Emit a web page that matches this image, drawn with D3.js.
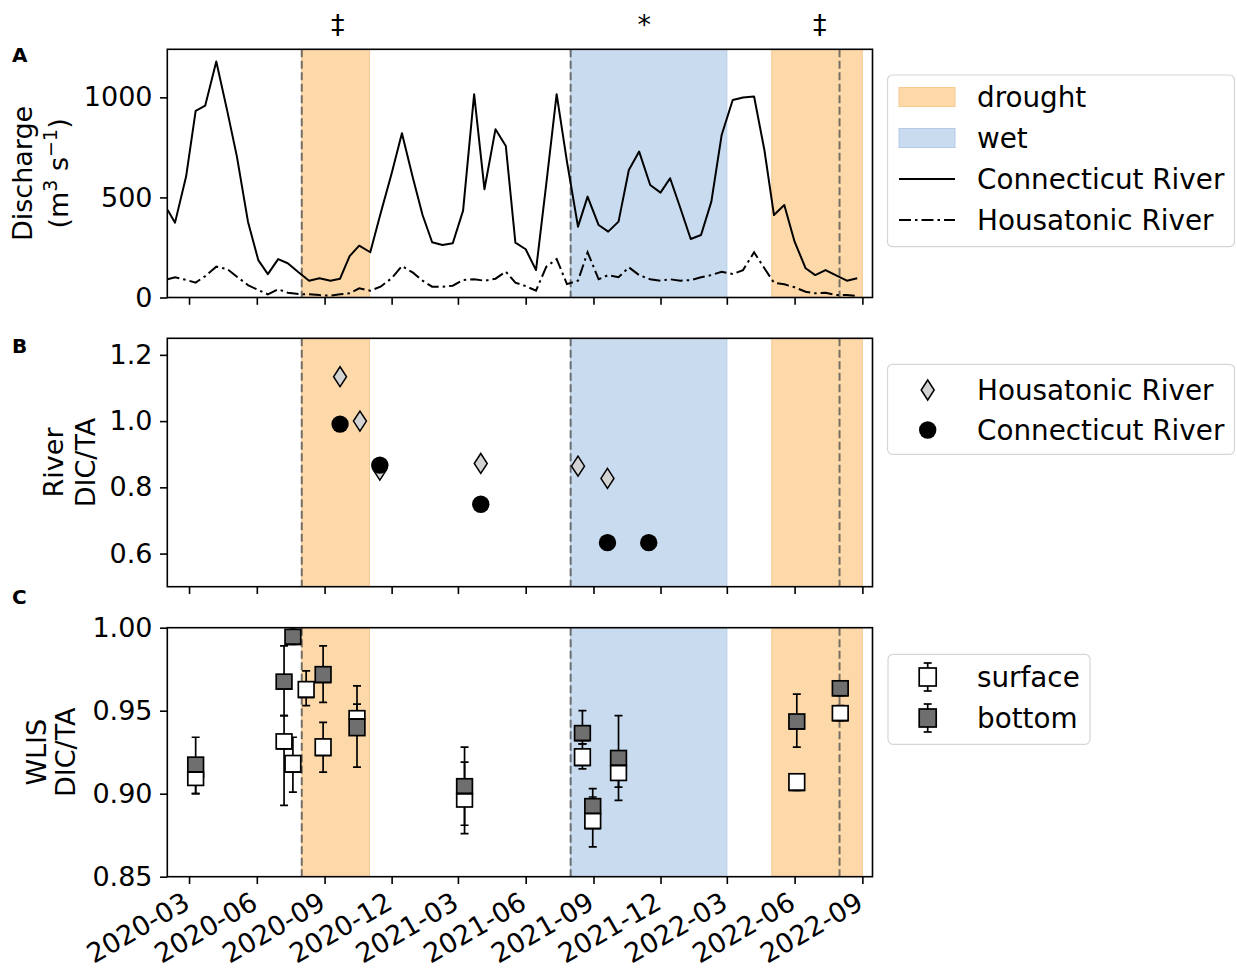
<!DOCTYPE html>
<html>
<head>
<meta charset="utf-8">
<script src="https://cdn.jsdelivr.net/npm/d3@7"></script>
<style>
  body { margin: 0; background: #fff; }
  text { font-family: "DejaVu Sans", sans-serif; }
</style>
</head>
<body>
<svg id="fig" width="1237" height="970"></svg>
<script>
// ---- values ----

// panel A: river discharge (m3/s), roughly every two weeks
var flowDates = ["2020-02-01","2020-02-11","2020-02-26","2020-03-10","2020-03-23","2020-04-07","2020-04-22","2020-05-05",
  "2020-05-20","2020-06-03","2020-06-16","2020-06-30","2020-07-13","2020-07-28","2020-08-11","2020-08-25","2020-09-09",
  "2020-09-22","2020-10-05","2020-10-18","2020-11-02","2020-11-16","2020-12-01","2020-12-15","2020-12-30","2021-01-12",
  "2021-01-25","2021-02-08","2021-02-22","2021-03-08","2021-03-23","2021-04-06","2021-04-21","2021-05-05","2021-05-18",
  "2021-06-01","2021-06-15","2021-06-29","2021-07-13","2021-07-27","2021-08-11","2021-08-24","2021-09-08","2021-09-21",
  "2021-10-05","2021-10-19","2021-11-02","2021-11-17","2021-12-01","2021-12-14","2021-12-28","2022-01-11","2022-01-25",
  "2022-02-08","2022-02-22","2022-03-09","2022-03-23","2022-04-07","2022-04-21","2022-05-04","2022-05-18","2022-06-01",
  "2022-06-16","2022-06-29","2022-07-13","2022-07-28","2022-08-11","2022-08-25"];
var ctFlow = [437,374,604,932,959,1179,930,704,379,187,117,192,171,125,84,96,84,94,207,259,
  226,420,620,821,596,412,276,262,271,434,1016,541,841,757,274,241,137,570,1016,679,
  354,504,362,329,379,637,729,562,524,596,446,292,312,479,812,987,999,1004,737,412,
  462,279,146,112,137,109,84,96];
var hsFlow = [91,101,88,74,107,154,142,104,62,37,16,41,24,17,16,12,9,16,21,46,
  34,54,96,157,124,84,54,54,59,87,91,84,94,129,74,57,34,154,192,67,
  84,226,91,112,101,151,112,91,84,91,84,87,101,112,129,117,137,226,146,74,
  66,51,29,21,24,12,12,7];

// panel B: river DIC/TA
var hsRatioDates = ["2020-09-22","2020-10-19","2020-11-15","2021-04-01","2021-08-11","2021-09-20"];
var hsRatio = [1.134, 1.000, 0.852, 0.872, 0.864, 0.827];
var ctRatioDates = ["2020-09-22","2020-11-15","2021-04-01","2021-09-20","2021-11-15"];
var ctRatio = [0.991, 0.867, 0.749, 0.633, 0.633];

// panel C: WLIS DIC/TA box plots (whisker low, q1, median, q3, whisker high)
var boxDates = ["2020-03-10","2020-07-08","2020-07-20","2020-08-07","2020-08-30","2020-10-15",
  "2021-03-10","2021-08-17","2021-08-31","2021-10-05","2022-06-04","2022-08-02"];
var surfLo  = [0.900,0.893,0.901,0.953,0.913,0.945,0.876,0.915,0.868,0.896,0.902,0.944];
var surfQ1  = [0.905,0.927,0.913,0.958,0.923,0.945,0.892,0.917,0.879,0.908,0.902,0.944];
var surfMed = [0.913,0.927,0.913,0.958,0.923,0.945,0.900,0.917,0.879,0.917,0.902,0.944];
var surfQ3  = [0.913,0.936,0.923,0.9675,0.933,0.950,0.900,0.927,0.888,0.917,0.912,0.953];
var surfHi  = [0.913,0.947,0.934,0.974,0.943,0.954,0.919,0.930,0.898,0.917,0.912,0.953];
var botLo  = [0.900,0.947,0.990,null,0.955,0.916,0.881,0.930,0.888,0.904,0.928,0.959];
var botQ1  = [0.910,0.963,0.990,null,0.967,0.935,0.900,0.932,0.888,0.917,0.939,0.959];
var botMed = [0.913,0.963,0.990,null,0.967,0.945,0.900,0.932,0.888,0.917,0.939,0.959];
var botQ3  = [0.922,0.972,0.999,null,0.9765,0.945,0.909,0.941,0.897,0.926,0.948,0.968];
var botHi  = [0.934,0.989,1.000,null,0.989,0.965,0.928,0.950,0.903,0.947,0.960,0.968];

// drought / wet periods and the marks above them
var periodStart = ["2020-08-01","2021-08-01","2022-05-01"];
var periodEnd = ["2020-11-01","2022-03-01","2022-09-01"];
var periodType = ["drought","wet","drought"];
var periodMark = ["\u2021","*","\u2021"];
var markDates = ["2020-09-19","2021-11-09","2022-07-05"];
var shiftDates = ["2020-08-01","2021-08-01","2022-08-01"];

// ticks
var xTickDates = ["2020-03-01","2020-06-01","2020-09-01","2020-12-01","2021-03-01","2021-06-01",
  "2021-09-01","2021-12-01","2022-03-01","2022-06-01","2022-09-01"];
var yTicksA = [0, 500, 1000];
var yTicksB = [0.6, 0.8, 1.0, 1.2];
var yTicksC = [0.85, 0.90, 0.95, 1.00];


var parse = d3.utcParse("%Y-%m-%d");
var svg = d3.select("#fig");
var FS = 27;
var colors = { drought: "#fdd9aa", wet: "#c9dbef" };
var edges = { drought: "#f6c990", wet: "#b4cbe6" };

var left = 167.3, right = 872.5;
var x = d3.scaleUtc()
  .domain([new Date(Date.UTC(2020, 0, 31, 12)), new Date(Date.UTC(2022, 8, 14, 18))])
  .range([left, right]);

var clipN = 0;
function makePanel(top, bottom, domain, ticks, fmt, showDates) {
  var y = d3.scaleLinear().domain(domain).range([bottom, top]);
  var g = svg.append("g");
  clipN++;
  svg.append("clipPath").attr("id", "clip" + clipN)
    .append("rect").attr("x", left).attr("y", top).attr("width", right - left).attr("height", bottom - top);
  var plot = g.append("g").attr("clip-path", "url(#clip" + clipN + ")");

  // shaded periods
  periodStart.forEach(function (s, i) {
    plot.append("rect")
      .attr("x", x(parse(s))).attr("y", top)
      .attr("width", x(parse(periodEnd[i])) - x(parse(s)))
      .attr("height", bottom - top)
      .attr("fill", colors[periodType[i]])
      .attr("stroke", edges[periodType[i]]).attr("stroke-width", 1);
  });
  // dashed lines
  shiftDates.forEach(function (s) {
    plot.append("line")
      .attr("x1", x(parse(s))).attr("x2", x(parse(s)))
      .attr("y1", top).attr("y2", bottom)
      .attr("stroke", "#4a4a4a").attr("stroke-opacity", 0.75)
      .attr("stroke-width", 2).attr("stroke-dasharray", "8,3.5");
  });

  var ya = g.append("g").attr("transform", "translate(" + left + ",0)")
    .call(d3.axisLeft(y).tickValues(ticks).tickFormat(fmt).tickSize(7.3).tickPadding(7.5));
  var xa = g.append("g").attr("transform", "translate(0," + bottom + ")")
    .call(d3.axisBottom(x).tickValues(xTickDates.map(parse)).tickFormat(d3.utcFormat("%Y-%m")).tickSize(7.3));
  [ya, xa].forEach(function (a) {
    a.attr("font-size", FS).attr("font-family", "DejaVu Sans");
    a.select(".domain").remove();
    a.selectAll(".tick line").attr("stroke", "#000").attr("stroke-width", 1.6);
    a.selectAll("text").attr("fill", "#000");
  });
  if (showDates) {
    xa.selectAll("text")
      .attr("y", 0).attr("dy", 0)
      .attr("text-anchor", "end")
      .attr("transform", "translate(2,31) rotate(-30)");
  } else {
    xa.selectAll("text").remove();
  }

  // spines drawn last
  g.append("rect")
    .attr("x", left).attr("y", top).attr("width", right - left).attr("height", bottom - top)
    .attr("fill", "none").attr("stroke", "#000").attr("stroke-width", 1.6);

  return { g: g, plot: plot, y: y };
}

function ylabel(lines, xs, yc) {
  lines.forEach(function (t, i) {
    var tx = svg.append("text")
      .attr("transform", "translate(" + xs[i] + "," + yc + ") rotate(-90)")
      .attr("text-anchor", "middle").attr("font-size", FS);
    t.forEach(function (piece) {
      var ts = tx.append("tspan").text(piece.s);
      if (piece.sup) ts.attr("font-size", 19).attr("dy", -11);
      if (piece.down) ts.attr("dy", 11);
    });
  });
}

function letter(t, yb) {
  svg.append("text").attr("x", 12).attr("y", yb)
    .attr("font-size", 20).attr("font-weight", "bold").text(t);
}

function legendBox(x0, y0, w, h) {
  return svg.append("rect").attr("x", x0).attr("y", y0).attr("width", w).attr("height", h)
    .attr("rx", 5).attr("fill", "#fff").attr("fill-opacity", 0.85)
    .attr("stroke", "#d6d6d6").attr("stroke-width", 1.2);
}
function legendText(t, yc) {
  svg.append("text").attr("x", 977).attr("y", yc + 9.8).attr("font-size", 27.8).text(t);
}

// ---------- panel A ----------
var A = makePanel(49.3, 297.5, [0, 1240], yTicksA, d3.format("d"), false);
var flow = flowDates.map(function (d, i) { return { date: parse(d), ct: ctFlow[i], hs: hsFlow[i] }; });
var lineCt = d3.line().x(function (d) { return x(d.date); }).y(function (d) { return A.y(d.ct); });
var lineHs = d3.line().x(function (d) { return x(d.date); }).y(function (d) { return A.y(d.hs); });
A.plot.append("path").datum(flow).attr("d", lineCt)
  .attr("fill", "none").attr("stroke", "#000").attr("stroke-width", 2).attr("stroke-linejoin", "round");
A.plot.append("path").datum(flow).attr("d", lineHs)
  .attr("fill", "none").attr("stroke", "#000").attr("stroke-width", 2).attr("stroke-dasharray", "12,4,2.5,4");

// marks over the periods, centred on y = 24
periodMark.forEach(function (m, i) {
  var t = svg.append("text").attr("x", x(parse(markDates[i]))).attr("y", 30)
    .attr("text-anchor", "middle").attr("font-size", 27).text(m);
  var bb = t.node().getBBox();
  t.attr("y", 30 + (24 - (bb.y + bb.height / 2)));
});

ylabel([[{ s: "Discharge" }],
  [{ s: "(m" }, { s: "3", sup: true }, { s: " s", down: true }, { s: "\u22121", sup: true }, { s: ")", down: true }]],
  [31.7, 67.5], 173.4);
letter("A", 61.7);

legendBox(887.5, 75, 347, 171.7);
[["drought", 97], ["wet", 138]].forEach(function (r) {
  svg.append("rect").attr("x", 899).attr("y", r[1] - 9.5).attr("width", 56).attr("height", 19)
    .attr("fill", colors[r[0]]).attr("stroke", edges[r[0]]).attr("stroke-width", 1);
  legendText(r[0], r[1]);
});
svg.append("line").attr("x1", 899).attr("x2", 955).attr("y1", 179).attr("y2", 179)
  .attr("stroke", "#000").attr("stroke-width", 2);
legendText("Connecticut River", 179);
svg.append("line").attr("x1", 899).attr("x2", 955).attr("y1", 220).attr("y2", 220)
  .attr("stroke", "#000").attr("stroke-width", 2).attr("stroke-dasharray", "12,4,2.5,4");
legendText("Housatonic River", 220);

// ---------- panel B ----------
var B = makePanel(338.3, 586.7, [0.5, 1.25], yTicksB, d3.format(".1f"), false);
var diamond = "M0,-10L6.5,0L0,10L-6.5,0Z";
hsRatioDates.forEach(function (d, i) {
  B.plot.append("path").attr("d", diamond)
    .attr("transform", "translate(" + x(parse(d)) + "," + B.y(hsRatio[i]) + ")")
    .attr("fill", "#d3d3d3").attr("stroke", "#000").attr("stroke-width", 1.5);
});
ctRatioDates.forEach(function (d, i) {
  B.plot.append("circle").attr("cx", x(parse(d))).attr("cy", B.y(ctRatio[i])).attr("r", 8.7)
    .attr("fill", "#000");
});
ylabel([[{ s: "River" }], [{ s: "DIC/TA" }]], [63.2, 94.7], 462.5);
letter("B", 353.3);

legendBox(887.5, 364.3, 347, 90);
svg.append("path").attr("d", diamond).attr("transform", "translate(927.7,390)")
  .attr("fill", "#d3d3d3").attr("stroke", "#000").attr("stroke-width", 1.5);
legendText("Housatonic River", 390);
svg.append("circle").attr("cx", 927.7).attr("cy", 430).attr("r", 8.7).attr("fill", "#000");
legendText("Connecticut River", 430);

// ---------- panel C ----------
var C = makePanel(627.7, 876.7, [0.85, 1.0], yTicksC, d3.format(".2f"), true);
var boxSeries = [
  { fill: "#6f6f6f", lo: botLo, q1: botQ1, med: botMed, q3: botQ3, hi: botHi },
  { fill: "#ffffff", lo: surfLo, q1: surfQ1, med: surfMed, q3: surfQ3, hi: surfHi }
];
var boxW = 15.7, capW = 8;
// whiskers and caps first, boxes on top of them
boxSeries.forEach(function (s) {
  boxDates.forEach(function (d, i) {
    if (s.q1[i] == null) return;
    var cx = x(parse(d));
    [[s.lo[i], s.q1[i]], [s.q3[i], s.hi[i]]].forEach(function (w) {
      C.plot.append("line").attr("x1", cx).attr("x2", cx)
        .attr("y1", C.y(w[0])).attr("y2", C.y(w[1]))
        .attr("stroke", "#000").attr("stroke-width", 1.7);
    });
    [s.lo[i], s.hi[i]].forEach(function (v) {
      C.plot.append("line").attr("x1", cx - capW / 2).attr("x2", cx + capW / 2)
        .attr("y1", C.y(v)).attr("y2", C.y(v))
        .attr("stroke", "#000").attr("stroke-width", 1.7);
    });
  });
});
boxSeries.forEach(function (s) {
  boxDates.forEach(function (d, i) {
    if (s.q1[i] == null) return;
    var cx = x(parse(d));
    C.plot.append("rect")
      .attr("x", cx - boxW / 2).attr("y", C.y(s.q3[i]))
      .attr("width", boxW).attr("height", C.y(s.q1[i]) - C.y(s.q3[i]))
      .attr("fill", s.fill).attr("stroke", "#000").attr("stroke-width", 1.7);
    C.plot.append("line").attr("x1", cx - boxW / 2).attr("x2", cx + boxW / 2)
      .attr("y1", C.y(s.med[i])).attr("y2", C.y(s.med[i]))
      .attr("stroke", "#000").attr("stroke-width", 1.7);
  });
});
ylabel([[{ s: "WLIS" }], [{ s: "DIC/TA" }]], [45.5, 75], 752.2);
letter("C", 604);

legendBox(888, 654.3, 202, 90);
[["surface", 677, "#ffffff"], ["bottom", 718, "#6f6f6f"]].forEach(function (r) {
  var cx = 927.7, cy = r[1];
  svg.append("line").attr("x1", cx).attr("x2", cx).attr("y1", cy - 14).attr("y2", cy + 14)
    .attr("stroke", "#000").attr("stroke-width", 1.7);
  [cy - 14, cy + 14].forEach(function (v) {
    svg.append("line").attr("x1", cx - 4).attr("x2", cx + 4).attr("y1", v).attr("y2", v)
      .attr("stroke", "#000").attr("stroke-width", 1.7);
  });
  svg.append("rect").attr("x", cx - 8.5).attr("y", cy - 9).attr("width", 17).attr("height", 18)
    .attr("fill", r[2]).attr("stroke", "#000").attr("stroke-width", 1.7);
  legendText(r[0], r[1]);
});
</script>
</body>
</html>
